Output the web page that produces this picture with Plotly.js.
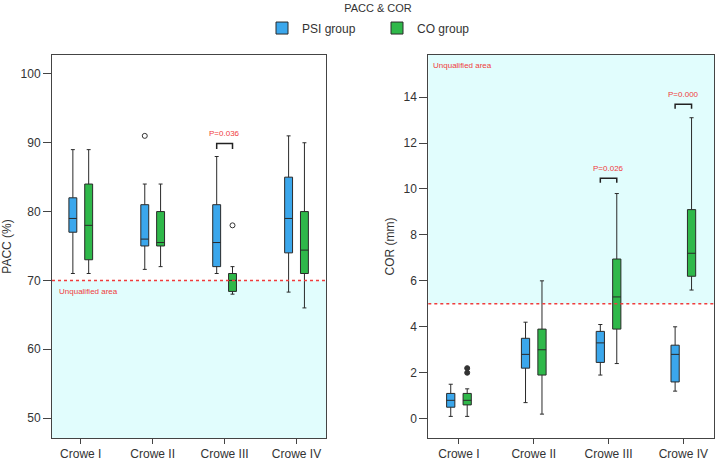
<!DOCTYPE html>
<html><head><meta charset="utf-8">
<script src="https://cdn.plot.ly/plotly-3.0.1.min.js"></script>
<style>html,body{margin:0;padding:0;background:#fff}#chart{width:716px;height:461px}</style>
</head><body><div id="chart"></div>
<script>
// ---- data ----
const categories = ["Crowe I", "Crowe II", "Crowe III", "Crowe IV"];
// PACC (%)
const paccPSI_lower  = [71, 71.6, 71, 68.3];
const paccPSI_q1     = [77, 75, 72, 74];
const paccPSI_median = [79, 76, 75.5, 79];
const paccPSI_q3     = [82, 81, 81, 85];
const paccPSI_upper  = [89, 84, 88, 91];
const paccPSI_out    = [[], [91], [], []];
const paccCO_lower   = [71, 72, 68, 66];
const paccCO_q1      = [73, 75, 68.4, 71];
const paccCO_median  = [78, 75.5, 70, 74.4];
const paccCO_q3      = [84, 80, 71, 80];
const paccCO_upper   = [89, 84, 72, 90];
const paccCO_out     = [[], [], [78], []];
// COR (mm)
const corPSI_lower  = [0.1, 0.7, 1.9, 1.2];
const corPSI_q1     = [0.5, 2.2, 2.45, 1.6];
const corPSI_median = [0.8, 2.8, 3.3, 2.8];
const corPSI_q3     = [1.1, 3.5, 3.8, 3.2];
const corPSI_upper  = [1.5, 4.2, 4.1, 4.0];
const corPSI_out    = [[], [], [], []];
const corCO_lower   = [0.1, 0.2, 2.4, 5.6];
const corCO_q1      = [0.6, 1.9, 3.9, 6.2];
const corCO_median  = [0.8, 3.0, 5.3, 7.2];
const corCO_q3      = [1.1, 3.9, 6.95, 9.1];
const corCO_upper   = [1.3, 6.0, 9.8, 13.1];
const corCO_out     = [[2.0, 2.2], [], [], []];
// thresholds & significance
const paccThreshold = 70;
const corThreshold = 5;
const paccSig = [{cat: "Crowe III", label: "P=0.036", y: 89.9}];
const corSig  = [{cat: "Crowe III", label: "P=0.026", y: 10.47}, {cat: "Crowe IV", label: "P=0.000", y: 13.69}];

// ---- style ----
const BLUE = "#3ba7ec", GREEN = "#2fb84a", CYAN = "#e1fdfd", RED = "#f03c3c";
const FONT = "Liberation Sans, Arial, sans-serif";
const BOXGAP = 0.56, BOXGROUPGAP = 0.5;
const halfSlot = (1 - BOXGAP) / 4; // centre offset of each grouped box
const yr1 = [47.1, 102.75], yr2 = [-0.84, 15.83];
const M = {l: 52, r: 2, t: 55, b: 22.5};
const W = 716, H = 461;
const pw = W - M.l - M.r, ph = H - M.t - M.b;
const px2x = px => (px - M.l) / pw;
const py2y = py => (H - M.b - py) / ph;

function boxTrace(name, grp, color, xa, ya, lo, q1, med, q3, up, out, sym, show) {
  // sample points per box: whisker ends (data extremes within fences) plus outliers
  const pts = lo.map((v, i) => [v, up[i]].concat(out[i]));
  return {
    type: "box", name: name, legendgroup: name, showlegend: show,
    offsetgroup: grp, alignmentgroup: xa,
    x: categories, y: pts,
    lowerfence: lo, q1: q1, median: med, q3: q3, upperfence: up,
    boxpoints: "outliers", jitter: 0, pointpos: 0,
    fillcolor: color, line: {color: "#2a2a2a", width: 1},
    marker: {symbol: sym, size: 5, color: "#333", line: {color: "#333", width: 1}},
    whiskerwidth: 0.5,
    xaxis: xa, yaxis: ya, hoverinfo: "y"
  };
}

const data = [
  boxTrace("PSI group", "psi", BLUE, "x", "y", paccPSI_lower, paccPSI_q1, paccPSI_median, paccPSI_q3, paccPSI_upper, paccPSI_out, "circle-open", true),
  boxTrace("CO group", "co", GREEN, "x", "y", paccCO_lower, paccCO_q1, paccCO_median, paccCO_q3, paccCO_upper, paccCO_out, "circle-open", true),
  boxTrace("PSI group", "psi", BLUE, "x2", "y2", corPSI_lower, corPSI_q1, corPSI_median, corPSI_q3, corPSI_upper, corPSI_out, "circle", false),
  boxTrace("CO group", "co", GREEN, "x2", "y2", corCO_lower, corCO_q1, corCO_median, corCO_q3, corCO_upper, corCO_out, "circle", false)
];

const shapes = [
  {type: "rect", xref: "x domain", yref: "y", x0: 0, x1: 1, y0: yr1[0], y1: paccThreshold, fillcolor: CYAN, line: {width: 0}, layer: "below"},
  {type: "rect", xref: "x2 domain", yref: "y2", x0: 0, x1: 1, y0: corThreshold, y1: yr2[1], fillcolor: CYAN, line: {width: 0}, layer: "below"},
  {type: "line", xref: "x domain", yref: "y", x0: 0, x1: 1, y0: paccThreshold, y1: paccThreshold, line: {color: RED, width: 1.5, dash: "dot"}},
  {type: "line", xref: "x2 domain", yref: "y2", x0: 0, x1: 1, y0: corThreshold, y1: corThreshold, line: {color: RED, width: 1.5, dash: "dot"}}
];
const annotations = [
  {xref: "x domain", yref: "y", x: 0.02, y: paccThreshold, yshift: -11, xanchor: "left", text: "Unqualified area", showarrow: false, font: {family: FONT, size: 8, color: RED}},
  {xref: "x2 domain", yref: "y2 domain", x: 0.01, y: 0.99, yanchor: "top", xanchor: "left", text: "Unqualified area", showarrow: false, font: {family: FONT, size: 8, color: RED}}
];
function addSig(list, xa, ya, tipDrop) {
  list.forEach(s => {
    const c = categories.indexOf(s.cat);
    const xl = c - halfSlot, xr = c + halfSlot;
    shapes.push({type: "path", xref: xa, yref: ya,
      path: `M ${xl},${s.y - tipDrop} L ${xl},${s.y} L ${xr},${s.y} L ${xr},${s.y - tipDrop}`,
      line: {color: "#222", width: 1.5}});
    annotations.push({xref: xa, yref: ya, x: c, y: s.y, yanchor: "bottom", yshift: 3, text: s.label, showarrow: false,
      font: {family: FONT, size: 8, color: RED}});
  });
}
addSig(paccSig, "x", "y", 0.8);
addSig(corSig, "x2", "y2", 0.2);

const axisCommon = {showline: true, mirror: true, linecolor: "#444", linewidth: 1, ticks: "outside",
  tickcolor: "#444", showgrid: false, zeroline: false, tickfont: {family: FONT, size: 12, color: "#333"}};
const layout = {
  width: W, height: H,
  margin: Object.assign({autoexpand: false}, M),
  paper_bgcolor: "#fff", plot_bgcolor: "#fff",
  font: {family: FONT, color: "#333"},
  title: {text: "PACC & COR", xref: "container", yref: "container", x: 378 / W, xanchor: "center", y: 1 - 8 / H, yanchor: "middle",
    font: {family: FONT, size: 11, color: "#333"}},
  boxmode: "group", boxgap: BOXGAP, boxgroupgap: BOXGROUPGAP,
  showlegend: true,
  legend: {orientation: "h", x: px2x(377), xanchor: "center", y: py2y(28), yanchor: "middle",
    font: {family: FONT, size: 12, color: "#333"}, entrywidth: 70, entrywidthmode: "pixels"},
  xaxis: Object.assign({}, axisCommon, {domain: [0, px2x(326)], type: "category", categoryorder: "array", categoryarray: categories,
    range: [-0.4, 3.41], ticklen: 5, anchor: "y"}),
  yaxis: Object.assign({}, axisCommon, {domain: [0, 1], range: yr1, tickvals: [50, 60, 70, 80, 90, 100], ticklen: 8, anchor: "x",
    title: {text: "PACC (%)", font: {family: FONT, size: 12, color: "#333"}, standoff: 6}}),
  xaxis2: Object.assign({}, axisCommon, {domain: [px2x(428.3), 1], type: "category", categoryorder: "array", categoryarray: categories,
    range: [-0.41, 3.41], ticklen: 5, anchor: "y2"}),
  yaxis2: Object.assign({}, axisCommon, {domain: [0, 1], range: yr2, tickvals: [0, 2, 4, 6, 8, 10, 12, 14], ticklen: 8, anchor: "x2",
    title: {text: "COR (mm)", font: {family: FONT, size: 12, color: "#333"}, standoff: 6}}),
  shapes: shapes, annotations: annotations
};
Plotly.newPlot("chart", data, layout, {displayModeBar: false, staticPlot: true});
</script></body></html>
